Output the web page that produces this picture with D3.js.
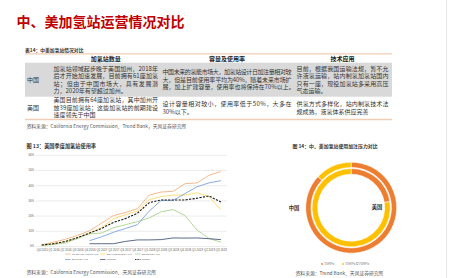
<!DOCTYPE html>
<html>
<head>
<meta charset="utf-8">
<script src="https://cdn.jsdelivr.net/npm/d3@7"></script>
<style>
html,body{margin:0;padding:0;background:#fff;}
svg{display:block;font-family:"Noto Sans CJK SC","Noto Sans",sans-serif;}
</style>
</head>
<body>
<svg id="page" width="450" height="278"></svg>
<script>
// ---- page / table data ----
const pageTitle = "中、美加氢站运营情况对比";
const tableCaption = "表14：中美加氢站情况对比";
const tableHeaders = ["加氢站数量", "容量及使用率", "技术应用"];
const tableRowNames = ["中国", "美国"];
const chinaCells = [
  ["加氢站领域起步晚于美国加州，2018年", "后才开始加速发展，目前拥有61座加氢", "站；但由于中国市场大，具有发展潜", "力，2020年有望超过加州。"],
  ["中国未来的氢能市场大，加氢站设计日加注量相对较", "大，但是目前使用率平均为40%，随着未来市场扩", "展，加上扩建容量，使用率也将保持在70%以上。"],
  ["目前，根据我国运输法规，暂不允", "许液氢运输，站内制氢加氢站国内", "只有一座，现役加氢站多采用高压", "气态运输。"]
];
const usCells = [
  ["美国目前拥有64座加氢站，其中加州开", "放39座加氢站；这些加氢站的前期建设", "速度领先于中国"],
  ["设计容量相对较小，使用率低于50%，大多在", "30%以下。"],
  ["供氢方式多样化，站内制氢技术法", "规成熟，液氢体系供应完善"]
];
const tableSource = "资料来源：California Energy Commission、Trend Bank，天风证券研究所";

// ---- figure 13: quarterly utilisation (%) ----
const lineCaption = "图 13：美国季度加氢站使用率";
const quarters = ["Q4 2015","Q1 2016","Q2 2016","Q3 2016","Q4 2016","Q1 2017","Q2 2017","Q3 2017",
                  "Q4 2017","Q1 2018","Q2 2018","Q3 2018","Q4 2018","Q1 2019","Q2 2019","Q3 2019"];
const yTicks = [0, 10, 20, 30, 40, 50, 60];
const losAngeles   = [0.7, 2.5, 4.5, 7, 10, 15, 20, 22, 24.5, 33.5, 35.5, 36, 41, 41.5, 46.5, 49];
const sanFrancisco = [0.5, 1.5, 3, 5.5, 8.5, 12, 18, 20.5, 23, 30.5, 32.5, 33.5, 33.5, 35, 32.5, 24];
const sacramento   = [0.3, 1, 2, 5, 8, 8.5, 12, 14, 16, 18.5, 22.5, 24, 20, 10.5, 5, 2.5];
const sanDiego     = [null, null, null, null, 3.5, 6, 9, 11.5, 14, 23, 30, 30, 34.5, 39, 41.5, 43];
const coalinga     = [null, null, null, null, 1.5, 1.5, 1.5, 3, 4, 4, 4.2, 5.3, 5.2, 5.3, 4.8, 4.2];
const network      = [0.7, 1.5, 3, 5.5, 8.5, 11.5, 15.5, 18, 21.5, 28.5, 30.3, 30.3, 30.3, 31.4, 32.9, 29];
const lineSource = "资料来源：California Energy Commission、天风证券研究所";

// ---- figure 14: fuelling pressure share (%) ----
const donutCaption = "图 14：中、美加氢站使用加注压力对比";
const pressureTypes = ["35MPa", "35MPa及70MPa"];
const chinaShare = [87, 13];
const usShare = [22.5, 77.5];
const donutSource = "资料来源：Trend Bank、天风证券研究所";

const svg = d3.select("#page");
svg.append("rect").attr("width", 450).attr("height", 278).attr("fill", "#fff");
svg.append("line").attr("x1", 446.5).attr("x2", 446.5).attr("y1", 0).attr("y2", 278)
   .attr("stroke", "#e6e6e6").attr("stroke-width", 1);

// title
svg.append("text").attr("x", 16.5).attr("y", 26.5)
   .attr("font-size", 14).attr("font-weight", "bold").attr("fill", "#c00000")
   .text(pageTitle);

// ================= table =================
const tbl = svg.append("g");
const colX = [[25, 52], [53.5, 158], [162.5, 291.5], [296.5, 388.5]];
const rowY = [[62.7, 96.7], [96.7, 118.8]];
const lineH = 7.5;

tbl.append("text").attr("x", 25).attr("y", 52).attr("font-size", 4.8).attr("fill", "#333")
   .attr("font-weight", "bold").text(tableCaption);
tbl.append("rect").attr("x", 25).attr("y", rowY[0][0]).attr("width", 367).attr("height", rowY[0][1] - rowY[0][0])
   .attr("fill", "#d9d9d9");
tbl.append("line").attr("x1", 25).attr("x2", 392).attr("y1", 53.8).attr("y2", 53.8)
   .attr("stroke", "#f2cdb3").attr("stroke-width", 1.2);
tbl.append("line").attr("x1", 25).attr("x2", 392).attr("y1", 119.5).attr("y2", 119.5)
   .attr("stroke", "#f2cdb3").attr("stroke-width", 1.4);

tbl.selectAll(".hdr").data(tableHeaders).enter().append("text")
   .attr("x", (d, i) => (colX[i + 1][0] + colX[i + 1][1]) / 2).attr("y", 60.6)
   .attr("text-anchor", "middle").attr("font-size", 6).attr("font-weight", "bold").attr("fill", "#222")
   .text(d => d);

[chinaCells, usCells].forEach((cells, r) => {
  const mid = (rowY[r][0] + rowY[r][1]) / 2;
  tbl.append("text").attr("x", 33).attr("y", mid + 2).attr("text-anchor", "middle")
     .attr("font-size", 6).attr("fill", "#333").text(tableRowNames[r]);
  cells.forEach((lines, c) => {
    const x0 = colX[c + 1][0], w = colX[c + 1][1] - colX[c + 1][0];
    const top = mid - (lines.length - 1) * lineH / 2;
    tbl.selectAll(null).data(lines).enter().append("text")
       .attr("x", x0).attr("y", (d, i) => top + i * lineH + 2.1)
       .attr("font-size", 6).attr("fill", "#333")
       .each(function(d, i) {
         if (i < lines.length - 1) d3.select(this).attr("textLength", w).attr("lengthAdjust", "spacing");
       })
       .text(d => d);
  });
});
tbl.append("text").attr("x", 26.5).attr("y", 128).attr("font-size", 4.8).attr("fill", "#555").text(tableSource);

// ================= figure 13 =================
const lc = svg.append("g");
lc.append("text").attr("x", 26.5).attr("y", 148).attr("font-size", 5.2).attr("font-weight", "bold")
  .attr("fill", "#333").text(lineCaption);

const x = d3.scalePoint().domain(quarters).range([41.7, 220.9]);
const y = d3.scaleLinear().domain([0, 60]).range([246, 154.8]);
const plotL = 35.5, plotR = 227;

const yAxis = lc.append("g").attr("transform", `translate(${plotL},0)`)
  .call(d3.axisLeft(y).tickValues(yTicks).tickFormat(d => d + "%").tickSize(-(plotR - plotL)).tickPadding(1.5));
yAxis.select(".domain").remove();
yAxis.selectAll("line").attr("stroke", "#d9d9d9").attr("stroke-width", 0.5);
yAxis.selectAll("text").attr("font-size", 2.8).attr("fill", "#595959").attr("font-family", "Liberation Sans, sans-serif");

const xAxis = lc.append("g").attr("transform", "translate(0,246)")
  .call(d3.axisBottom(x).tickSize(0).tickPadding(3));
xAxis.select(".domain").remove();
xAxis.selectAll("text").attr("font-size", 2.9).attr("fill", "#595959").attr("font-family", "Liberation Sans, sans-serif");

const series = [
  {name: "Greater Los Angeles Area", values: losAngeles, color: "#f4b183"},
  {name: "San Francisco Bay Area", values: sanFrancisco, color: "#ffd966"},
  {name: "Sacramento Area", values: sacramento, color: "#a9d18e"},
  {name: "San Diego Area", values: sanDiego, color: "#7ba3dc"},
  {name: "Coalinga", values: coalinga, color: "#4a5a78"},
  {name: "Network", values: network, color: "#1a1a1a", dash: "2.2,1.3"}
];
const line = d3.line().defined(d => d != null).x((d, i) => x(quarters[i])).y(d => y(d));
lc.selectAll(".series").data(series).enter().append("path")
  .attr("d", d => line(d.values)).attr("fill", "none")
  .attr("stroke", d => d.color).attr("stroke-width", d => d.dash ? 1.1 : 0.9)
  .attr("stroke-dasharray", d => d.dash || null);

const leg = lc.selectAll(".leg").data(series).enter().append("g")
  .attr("transform", (d, i) => `translate(${[65, 100, 135][i % 3]},${i < 3 ? 254 : 259.5})`);
leg.append("line").attr("x1", 0).attr("x2", 5.5).attr("stroke", d => d.color)
  .attr("stroke-width", d => d.dash ? 0.9 : 0.8).attr("stroke-dasharray", d => d.dash ? "1.4,1" : null);
leg.append("text").attr("x", 6.8).attr("y", 0.8).attr("font-size", 2.3).attr("fill", "#595959")
  .attr("font-family", "Liberation Sans, sans-serif").text(d => d.name);

lc.append("text").attr("x", 26.5).attr("y", 274).attr("font-size", 4.8).attr("fill", "#555").text(lineSource);

// ================= figure 14 =================
const dc = svg.append("g");
dc.append("text").attr("x", 335).attr("y", 147.5).attr("text-anchor", "middle").attr("font-size", 4.9)
  .attr("font-weight", "bold").attr("fill", "#333").text(donutCaption);

const cx = 351.2, cy = 207.7;
const colors = d3.scaleOrdinal().domain(pressureTypes).range(["#ed7d31", "#ffc000"]);
const pie = d3.pie().sort(null).value(d => d.v);
const rings = [
  {share: chinaShare, inner: 40.2, outer: 45.5},
  {share: usShare, inner: 33.5, outer: 39.2}
];
const ringG = dc.append("g").attr("transform", `translate(${cx},${cy})`);
rings.forEach(rg => {
  const arc = d3.arc().innerRadius(rg.inner).outerRadius(rg.outer);
  ringG.append("g").selectAll("path")
    .data(pie(rg.share.map((v, i) => ({k: pressureTypes[i], v}))))
    .enter().append("path").attr("d", arc).attr("fill", d => colors(d.data.k))
    .attr("stroke", "#fff").attr("stroke-width", 0.6);
});
dc.append("text").attr("x", 294).attr("y", 209.5).attr("text-anchor", "middle").attr("font-size", 5.3)
  .attr("font-weight", "bold").attr("fill", "#333").text(tableRowNames[0]);
dc.append("text").attr("x", 377).attr("y", 208.5).attr("text-anchor", "middle").attr("font-size", 5.3)
  .attr("font-weight", "bold").attr("fill", "#333").text(tableRowNames[1]);

const dl = dc.selectAll(".dleg").data(pressureTypes).enter().append("g")
  .attr("transform", (d, i) => `translate(${[322, 343][i]},264)`);
dl.append("circle").attr("r", 0.9).attr("fill", d => colors(d));
dl.append("text").attr("x", 2).attr("y", 1.2).attr("font-size", 3.4).attr("fill", "#7f7f7f").text(d => d);

dc.append("text").attr("x", 339.5).attr("y", 275).attr("text-anchor", "middle").attr("font-size", 4.8)
  .attr("fill", "#555").text(donutSource);
</script>
</body>
</html>
